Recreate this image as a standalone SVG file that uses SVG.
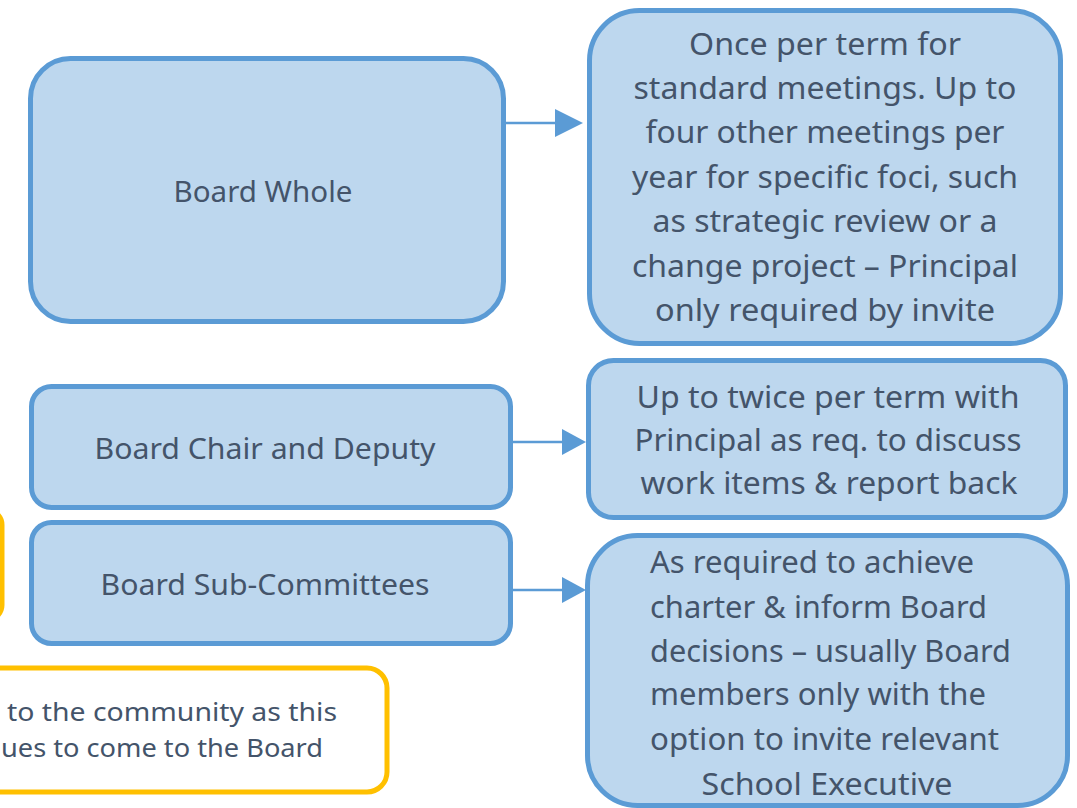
<svg xmlns="http://www.w3.org/2000/svg" width="1077" height="808" viewBox="0 0 1077 808">
<style>
.box{fill:#BDD7EE;stroke:#5B9BD5;stroke-width:5}
.note{fill:#FFFFFF;stroke:#FFC000;stroke-width:5}
text{font-family:"Noto Sans","Liberation Sans",sans-serif;fill:#44546A}
.big{font-size:31px}
.lbl{font-size:29px;text-anchor:middle}
.sm{font-size:25px}
.c{text-anchor:middle}
.conn line{stroke:#5B9BD5;stroke-width:2.5}
.conn path{fill:#5B9BD5}
</style>
<g id="note-left">
<rect class="note" x="-300" y="510" width="302" height="110" rx="15"/>
</g>
<g id="note-bottom">
<rect class="note" x="-300" y="668" width="687" height="124" rx="20"/>
<text class="sm" x="7" y="721" textLength="330" lengthAdjust="spacingAndGlyphs">to the community as this</text>
<text class="sm" x="1" y="757" textLength="322" lengthAdjust="spacingAndGlyphs">ues to come to the Board</text>
</g>
<g id="board-whole">
<rect class="box" x="30.5" y="58.5" width="473" height="263" rx="40"/>
<text class="lbl" x="263" y="202" textLength="179" lengthAdjust="spacingAndGlyphs">Board Whole</text>
</g>
<g id="board-chair">
<rect class="box" x="31.5" y="386.5" width="479" height="121" rx="20"/>
<text class="lbl" x="265" y="459" textLength="341" lengthAdjust="spacingAndGlyphs">Board Chair and Deputy</text>
</g>
<g id="board-sub">
<rect class="box" x="31.5" y="522.5" width="479" height="121" rx="20"/>
<text class="lbl" x="265" y="595" textLength="329" lengthAdjust="spacingAndGlyphs">Board Sub-Committees</text>
</g>
<g id="whole-desc">
<rect class="box" x="589.5" y="10.5" width="471" height="333" rx="50"/>
<text class="big c" x="825" y="55" textLength="272" lengthAdjust="spacingAndGlyphs">Once per term for</text>
<text class="big c" x="825" y="99" textLength="383" lengthAdjust="spacingAndGlyphs">standard meetings. Up to</text>
<text class="big c" x="825" y="143" textLength="359" lengthAdjust="spacingAndGlyphs">four other meetings per</text>
<text class="big c" x="825" y="188" textLength="386" lengthAdjust="spacingAndGlyphs">year for specific foci, such</text>
<text class="big c" x="825" y="232" textLength="345" lengthAdjust="spacingAndGlyphs">as strategic review or a</text>
<text class="big c" x="825" y="277" textLength="386" lengthAdjust="spacingAndGlyphs">change project – Principal</text>
<text class="big c" x="825" y="321" textLength="340" lengthAdjust="spacingAndGlyphs">only required by invite</text>
</g>
<g id="chair-desc">
<rect class="box" x="588.5" y="360.5" width="477" height="157" rx="25"/>
<text class="big c" x="828" y="408" textLength="383" lengthAdjust="spacingAndGlyphs">Up to twice per term with</text>
<text class="big c" x="828" y="451" textLength="387" lengthAdjust="spacingAndGlyphs">Principal as req. to discuss</text>
<text class="big c" x="829" y="494" textLength="377" lengthAdjust="spacingAndGlyphs">work items &amp; report back</text>
</g>
<g id="sub-desc">
<rect class="box" x="587.5" y="535.5" width="480" height="270" rx="50"/>
<text class="big" x="650" y="573" textLength="324" lengthAdjust="spacingAndGlyphs">As required to achieve</text>
<text class="big" x="650" y="618" textLength="337" lengthAdjust="spacingAndGlyphs">charter &amp; inform Board</text>
<text class="big" x="650" y="662" textLength="361" lengthAdjust="spacingAndGlyphs">decisions – usually Board</text>
<text class="big" x="650" y="705" textLength="336" lengthAdjust="spacingAndGlyphs">members only with the</text>
<text class="big" x="650" y="750" textLength="349" lengthAdjust="spacingAndGlyphs">option to invite relevant</text>
<text class="big c" x="827" y="795" textLength="251" lengthAdjust="spacingAndGlyphs">School Executive</text>
</g>
<g id="connectors" class="conn">
<line x1="506" y1="123" x2="556" y2="123"/>
<path d="M555,109 L583,123 L555,137 Z"/>
<line x1="513" y1="442" x2="563" y2="442"/>
<path d="M562,429 L586,442 L562,455 Z"/>
<line x1="513" y1="590" x2="563" y2="590"/>
<path d="M562,577 L586,590 L562,603 Z"/>
</g>
</svg>
